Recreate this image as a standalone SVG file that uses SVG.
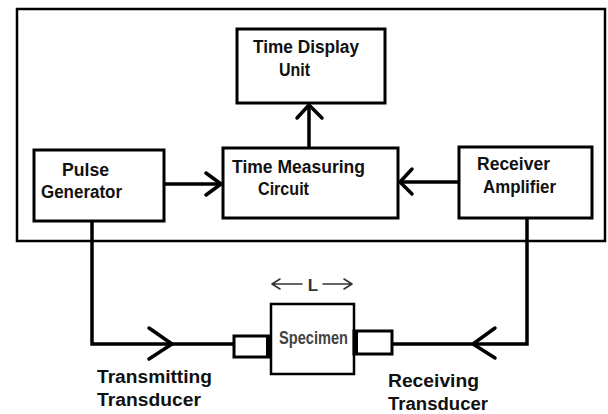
<svg xmlns="http://www.w3.org/2000/svg" width="608" height="414" viewBox="0 0 608 414">
<style>
.box{fill:#fff;stroke:#000;stroke-width:3}
.ln{fill:none;stroke:#000;stroke-width:3.5;stroke-linecap:butt}
.hd{fill:none;stroke:#000;stroke-width:3.5;stroke-linecap:round;stroke-linejoin:round}
.t{font-family:"Liberation Sans",Arial,sans-serif;font-weight:bold;font-size:17.5px;fill:#111}
.t2{font-family:"Liberation Sans",Arial,sans-serif;font-weight:bold;font-size:18px;fill:#111}
.thin{fill:none;stroke:#333;stroke-width:1.5;stroke-linecap:round;stroke-linejoin:round}
</style>
<rect width="608" height="414" fill="#fff"/>
<rect id="frame" x="17" y="9" width="588" height="232" fill="none" stroke="#000" stroke-width="2.5"/>
<g id="connectors">
  <path class="ln" d="M164 184H221"/>
  <path class="hd" d="M206 173L221 184L206 195"/>
  <path class="ln" d="M459 182H400"/>
  <path class="hd" d="M412 169L400 182L412 194"/>
  <path class="ln" d="M309 148V105"/>
  <path class="hd" d="M297 118L309 105L322 118"/>
  <path class="ln" d="M92 221V344H234"/>
  <path class="hd" d="M149 328L172 344L149 359"/>
  <path class="ln" d="M527 218V344H392"/>
  <path class="hd" d="M495 328L473 344L495 358"/>
</g>
<g id="time-display-unit">
  <rect class="box" x="237" y="29" width="148" height="74"/>
  <text class="t" x="253" y="53" textLength="106" lengthAdjust="spacingAndGlyphs">Time Display</text>
  <text class="t" x="279" y="76" textLength="31" lengthAdjust="spacingAndGlyphs">Unit</text>
</g>
<g id="time-measuring-circuit">
  <rect class="box" x="223" y="148" width="175" height="70"/>
  <text class="t" x="232" y="173" textLength="133" lengthAdjust="spacingAndGlyphs">Time Measuring</text>
  <text class="t" x="258" y="195" textLength="51" lengthAdjust="spacingAndGlyphs">Circuit</text>
</g>
<g id="pulse-generator">
  <rect class="box" x="34" y="150" width="130" height="71"/>
  <text class="t" x="62" y="176" textLength="47" lengthAdjust="spacingAndGlyphs">Pulse</text>
  <text class="t" x="41" y="198" textLength="81" lengthAdjust="spacingAndGlyphs">Generator</text>
</g>
<g id="receiver-amplifier">
  <rect class="box" x="459" y="147" width="133" height="71"/>
  <text class="t" x="477" y="170" textLength="73" lengthAdjust="spacingAndGlyphs">Receiver</text>
  <text class="t" x="483" y="193" textLength="73" lengthAdjust="spacingAndGlyphs">Amplifier</text>
</g>
<g id="transmitting-transducer">
  <rect x="234" y="336" width="36" height="21" fill="#fff" stroke="#000" stroke-width="3"/>
  <line x1="268" y1="336" x2="268" y2="357" stroke="#000" stroke-width="4"/>
  <text class="t2" x="97" y="383" textLength="115" lengthAdjust="spacingAndGlyphs">Transmitting</text>
  <text class="t2" x="97" y="406" textLength="104" lengthAdjust="spacingAndGlyphs">Transducer</text>
</g>
<g id="specimen">
  <rect x="271" y="304" width="83" height="70" fill="#fff" stroke="#000" stroke-width="2.5"/>
  <text x="279" y="344" textLength="69" lengthAdjust="spacingAndGlyphs" style="font-family:'Liberation Sans',Arial,sans-serif;font-weight:bold;font-size:19px;fill:#444">Specimen</text>
</g>
<g id="receiving-transducer">
  <rect x="354" y="331" width="38" height="23" fill="#fff" stroke="#000" stroke-width="3"/>
  <line x1="356" y1="331" x2="356" y2="354" stroke="#000" stroke-width="4"/>
  <text class="t2" x="388" y="387" textLength="91" lengthAdjust="spacingAndGlyphs">Receiving</text>
  <text class="t2" x="388" y="410" textLength="100" lengthAdjust="spacingAndGlyphs">Transducer</text>
</g>
<g id="length-L">
  <path class="thin" d="M302 284H272M280 279L272 284L280 289"/>
  <path class="thin" d="M323 284H352M344 279L352 284L344 289"/>
  <text x="313" y="291" text-anchor="middle" style="font-family:'Liberation Sans',Arial,sans-serif;font-weight:bold;font-size:17px;fill:#333">L</text>
</g>
</svg>
